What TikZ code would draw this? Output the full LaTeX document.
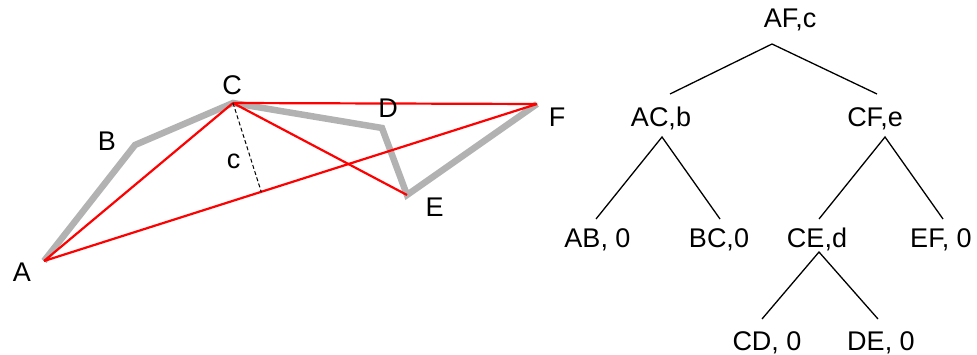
\documentclass[tikz,border=0pt]{standalone}
\usepackage{fontspec}
\setmainfont{Liberation Sans}
\usetikzlibrary{calc}
\begin{document}
\begin{tikzpicture}[x=1pt,y=-1pt,
  lbl/.style={anchor=base,inner sep=0pt,font=\fontsize{27}{31}\selectfont},
  chainline/.style={line width=6.5pt,color=black!30},
  redline/.style={line width=2.2pt,red},
  treeedge/.style={line width=1.3pt,black},
  heightline/.style={line width=1pt,dash pattern=on 4pt off 2.5pt}]
\useasboundingbox (0,0) rectangle (977,355);
% polygon points
\coordinate (pA) at (44,261);
\coordinate (pB) at (135,145);
\coordinate (pC) at (233,103);
\coordinate (pD) at (382,128);
\coordinate (pE) at (407,195);
\coordinate (pF) at (537,104);
\coordinate (foot) at ($(pA)!(pC)!(pF)$);
% gray chain
\draw[chainline] (pA) -- (pB) -- (pC) -- (pD) -- (pE) -- (pF);
% red chords
\draw[redline] (pA) -- (pC);
\draw[redline] (pA) -- (pF);
\draw[redline] (pC) -- (pF);
\draw[redline] (pC) -- (pE);
\draw[heightline] (pC) -- (foot);
% point labels
\node[lbl] (lA) at (22,282) {A};
\node[lbl] (lB) at (107,151) {B};
\node[lbl] (lC) at (232,95) {C};
\node[lbl] (lc) at (233.5,169) {c};
\node[lbl] (lD) at (388,118) {D};
\node[lbl] (lE) at (434.5,217) {E};
\node[lbl] (lF) at (557,127) {F};
% tree nodes
\node[lbl] (afc) at (790,28) {AF,c};
\node[lbl] (acb) at (661,127) {AC,b};
\node[lbl] (cfe) at (875,127) {CF,e};
\node[lbl] (ab) at (597.5,248) {AB, 0};
\node[lbl] (bc) at (719,248) {BC,0};
\node[lbl] (ced) at (817,248) {CE,d};
\node[lbl] (ef) at (941,248) {EF, 0};
\node[lbl] (cd) at (767,350) {CD, 0};
\node[lbl] (de) at (881,350) {DE, 0};
% tree attachment points
\coordinate (afc-b) at (772,44);
\coordinate (acb-t) at (670,94);
\coordinate (cfe-t) at (877,94);
\coordinate (acb-b) at (662,137);
\coordinate (ab-t) at (596,219);
\coordinate (bc-t) at (720,219);
\coordinate (cfe-b) at (885,137);
\coordinate (ced-t) at (819,219);
\coordinate (ef-t) at (943,219);
\coordinate (ced-b) at (819,252);
\coordinate (cd-t) at (762,319);
\coordinate (de-t) at (878,319);
% tree edges
\draw[treeedge] (acb-t) -- (afc-b) -- (cfe-t);
\draw[treeedge] (ab-t) -- (acb-b) -- (bc-t);
\draw[treeedge] (ced-t) -- (cfe-b) -- (ef-t);
\draw[treeedge] (cd-t) -- (ced-b) -- (de-t);
\end{tikzpicture}
\end{document}
